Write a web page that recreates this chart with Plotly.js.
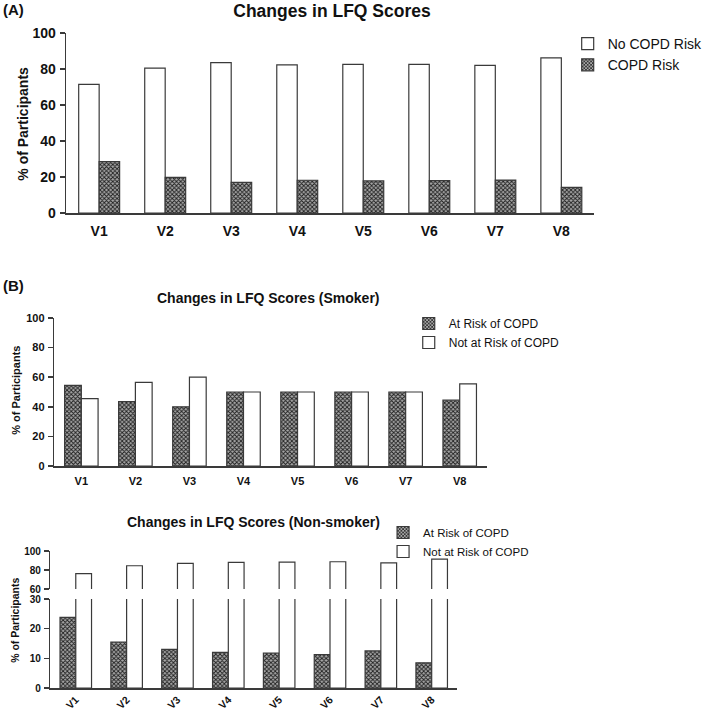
<!DOCTYPE html>
<html><head><meta charset="utf-8">
<script src="https://cdn.plot.ly/plotly-3.0.1.min.js"></script>
<style>html,body{margin:0;padding:0;background:#fff}</style>
</head><body><div id="chart" style="width:708px;height:712px"></div>
<script>
const visits = ['V1','V2','V3','V4','V5','V6','V7','V8'];
// Panel A (all participants)
const noRiskAll = [71.5, 80.5, 83.5, 82.3, 82.6, 82.6, 82.0, 86.2];
const riskAll   = [28.5, 19.8, 17.0, 18.2, 17.8, 18.0, 18.3, 14.2];
// Panel B smokers
const riskSmoker   = [54.5, 43.5, 40.0, 50.0, 50.0, 50.0, 50.0, 44.5];
const noRiskSmoker = [45.5, 56.5, 60.0, 50.0, 50.0, 50.0, 50.0, 55.5];
// Panel B non-smokers
const riskNon   = [23.8, 15.5, 13.0, 12.0, 11.8, 11.3, 12.5, 8.5];
const noRiskNon = [76.2, 84.5, 87.0, 88.0, 88.2, 88.7, 87.5, 91.5];

const FONT = 'Liberation Sans, Arial, sans-serif';
const LINE = '#3a3a3a';
const BW = 0.31;
const hatch = {shape:'x', size:3, solidity:0.5, fgcolor:'#1e1e1e', bgcolor:'#a8a8a8'};
function whiteBar(x, y, xa, ya, name, legend, offset, show, group){
  return {type:'bar', x:x, y:y, xaxis:xa, yaxis:ya, name:name, legend:legend,
    width:BW, offset:offset, showlegend:show, legendgroup:group,
    marker:{color:'#ffffff', line:{color:LINE, width:1.2}}, hoverinfo:'x+y'};
}
function hatchBar(x, y, xa, ya, name, legend, offset, group){
  return {type:'bar', x:x, y:y, xaxis:xa, yaxis:ya, name:name, legend:legend,
    width:BW, offset:offset, legendgroup:group,
    marker:{color:'#8a8a8a', pattern:hatch, line:{color:LINE, width:1.2}}, hoverinfo:'x+y'};
}
const traces = [
  whiteBar(visits, noRiskAll, 'x', 'y', 'No COPD Risk', 'legend', -BW, true, 'a1'),
  hatchBar(visits, riskAll, 'x', 'y', 'COPD Risk', 'legend', 0, 'a2'),
  hatchBar(visits, riskSmoker, 'x2', 'y2', 'At Risk of COPD', 'legend2', -BW, 'b1'),
  whiteBar(visits, noRiskSmoker, 'x2', 'y2', 'Not at Risk of COPD', 'legend2', 0, true, 'b2'),
  hatchBar(visits, riskNon, 'x3', 'y3', 'At Risk of COPD', 'legend3', -BW, 'c1'),
  whiteBar(visits, noRiskNon, 'x3', 'y3', 'Not at Risk of COPD', 'legend3', 0, true, 'c2'),
  whiteBar(visits, noRiskNon, 'x3', 'y4', 'Not at Risk of COPD', 'legend3', 0, false, 'c2')
];

function xax(domain, anchor, size, angle, standoff){
  return {domain:domain, anchor:anchor, type:'category', range:[-0.5,7.5],
    showline:true, linecolor:LINE, linewidth:1.5, ticks:'', showgrid:false, zeroline:false,
    tickangle:angle, ticklabelstandoff:standoff,
    tickfont:{family:FONT, size:size, weight:'bold', color:'#111'}, fixedrange:true};
}
function yax(domain, anchor, range, dtick, size){
  return {domain:domain, anchor:anchor, range:range, dtick:dtick, tick0:0,
    showline:true, linecolor:LINE, linewidth:1.5, ticks:'outside', ticklen:5, tickwidth:1.5, tickcolor:LINE,
    showgrid:false, zeroline:false, ticklabelstandoff:1,
    tickfont:{family:FONT, size:size, weight:'bold', color:'#111'}, fixedrange:true};
}
const H = 712, W = 708;
const py = v => 1 - v/H, px = v => v/W;

const layout = {
  width:W, height:H, margin:{l:0,r:0,t:0,b:0}, paper_bgcolor:'#fff', plot_bgcolor:'#fff',
  barmode:'overlay', showlegend:true,
  title:{text:'Changes in LFQ Scores', x:px(332), xanchor:'center', y:py(11), yanchor:'middle',
    font:{family:FONT, size:17.5, weight:'bold', color:'#111'}},
  xaxis: xax([px(67), px(602)], 'y', 14, 0, 5),
  yaxis: yax([py(213), py(33)], 'x', [0,100], 20, 14),
  xaxis2: xax([px(55), px(493)], 'y2', 11, 0, 4),
  yaxis2: yax([py(466), py(318)], 'x2', [0,100], 20, 11),
  xaxis3: xax([px(51), px(463)], 'y3', 10.5, -45, 0),
  yaxis3: yax([py(688), py(599)], 'x3', [0,30], 10, 10),
  yaxis4: yax([py(589), py(551)], 'x3', [60,100], 20, 10),
  legend:{x:px(575), y:py(28), xanchor:'left', yanchor:'top', tracegroupgap:0, bgcolor:'rgba(0,0,0,0)',
    font:{family:FONT, size:14, color:'#111'}},
  legend2:{x:px(414), y:py(309), xanchor:'left', yanchor:'top', tracegroupgap:0, bgcolor:'rgba(0,0,0,0)',
    font:{family:FONT, size:12, color:'#111'}},
  legend3:{x:px(388), y:py(518), xanchor:'left', yanchor:'top', tracegroupgap:0, bgcolor:'rgba(0,0,0,0)',
    font:{family:FONT, size:11.5, color:'#111'}},
  annotations:[
    {text:'(A)', x:px(1), y:py(10), xref:'paper', yref:'paper', xanchor:'left', yanchor:'middle', showarrow:false,
      font:{family:FONT, size:15, weight:'bold', color:'#111'}},
    {text:'(B)', x:px(1), y:py(285), xref:'paper', yref:'paper', xanchor:'left', yanchor:'middle', showarrow:false,
      font:{family:FONT, size:15, weight:'bold', color:'#111'}},
    {text:'Changes in LFQ Scores (Smoker)', x:px(272), y:py(298), xref:'paper', yref:'paper', xanchor:'center', yanchor:'middle', showarrow:false,
      font:{family:FONT, size:14, weight:'bold', color:'#111'}},
    {text:'Changes in LFQ Scores (Non-smoker)', x:px(257), y:py(522), xref:'paper', yref:'paper', xanchor:'center', yanchor:'middle', showarrow:false,
      font:{family:FONT, size:14, weight:'bold', color:'#111'}},
    {text:'% of Participants', x:px(23), y:py(124), xref:'paper', yref:'paper', xanchor:'center', yanchor:'middle', textangle:-90, showarrow:false,
      font:{family:FONT, size:14, weight:'bold', color:'#111'}},
    {text:'% of Participants', x:px(16), y:py(390), xref:'paper', yref:'paper', xanchor:'center', yanchor:'middle', textangle:-90, showarrow:false,
      font:{family:FONT, size:11, weight:'bold', color:'#111'}},
    {text:'% of Participants', x:px(15), y:py(620), xref:'paper', yref:'paper', xanchor:'center', yanchor:'middle', textangle:-90, showarrow:false,
      font:{family:FONT, size:10.5, weight:'bold', color:'#111'}}
  ]
};
Plotly.newPlot('chart', traces, layout, {displayModeBar:false, staticPlot:true});
</script></body></html>
